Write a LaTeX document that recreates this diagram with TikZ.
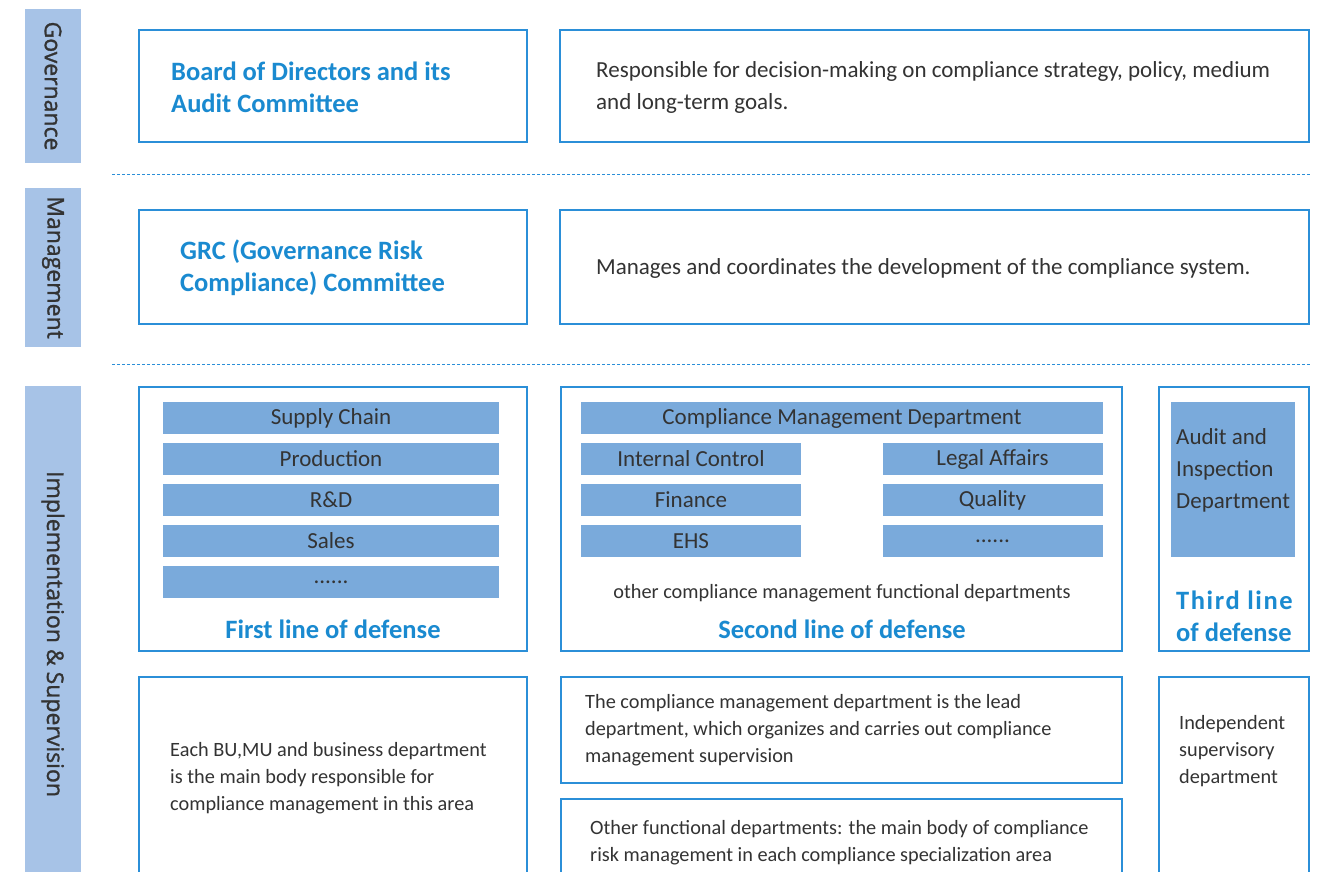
\documentclass[tikz,border=0pt]{standalone}
\usepackage{fontspec}
\setmainfont{Carlito}
\newfontfamily\sidefont[FakeBold=1.2]{Open Sans}
\definecolor{bordercol}{HTML}{2B8FD8}
\definecolor{barfill}{HTML}{7AAADB}
\definecolor{sidefill}{HTML}{A7C3E7}
\definecolor{headblue}{HTML}{1A8AD0}
\definecolor{textcol}{HTML}{333333}
\tikzset{
  frame/.style={draw=bordercol, line width=1.1pt, fill=white, inner sep=0pt},
  bar/.style={fill=barfill, inner sep=0pt, text=textcol, font=\fontsize{23}{26}\selectfont},
  side/.style={fill=sidefill, inner sep=0pt},
  sidetext/.style={rotate=-90, text=textcol, font=\sidefont\fontsize{23}{26}\selectfont, inner sep=0pt},
  head/.style={text=headblue, font=\bfseries\fontsize{26.5}{32}\selectfont, align=left, inner sep=0pt},
  body/.style={text=textcol, font=\fontsize{23}{32}\selectfont, align=left, inner sep=0pt},
  small/.style={text=textcol, font=\fontsize{20.3}{27}\selectfont, align=left, inner sep=0pt},
  sep/.style={draw=bordercol, line width=1pt, dash pattern=on 3pt off 2pt}
}
\begin{document}
\begin{tikzpicture}[x=1pt, y=-1pt]
\clip (0,0) rectangle (1325,871);
\fill[white] (0,0) rectangle (1325,871);

% side bars
\node[side, minimum width=56pt, minimum height=154pt] (gov) at (53,86) {};
\node[sidetext] (govt) at (gov.center) {Governance};
\node[side, minimum width=56pt, minimum height=159pt] (man) at (53,267.5) {};
\node[sidetext] (mant) at (man.center) {Management};
\node[side, minimum width=56pt, minimum height=500pt] (imp) at (53,636) {};
\node[sidetext] (impt) at (53,634) {Implementation \& Supervision};

% separators
\coordinate (s1a) at (112,174); \coordinate (s1b) at (1310,174);
\coordinate (s2a) at (112,364); \coordinate (s2b) at (1310,364);
\draw[sep] (s1a) -- (s1b);
\draw[sep] (s2a) -- (s2b);

% governance row
\node[frame, minimum width=388pt, minimum height=112pt] (board) at (333,86) {};
\node[head, anchor=west] (boardt) at (171,87) {Board of Directors and its\\Audit Committee};
\node[frame, minimum width=749pt, minimum height=112pt] (resp) at (934.5,86) {};
\node[body, anchor=west] (respt) at (596,87) {Responsible for decision-making on compliance strategy, policy, medium\\and long-term goals.};

% management row
\node[frame, minimum width=388pt, minimum height=114pt] (grc) at (333,267) {};
\node[head, anchor=west] (grct) at (180,268) {GRC (Governance Risk\\Compliance) Committee};
\node[frame, minimum width=749pt, minimum height=114pt] (mgs) at (934.5,267) {};
\node[body, anchor=west] (mgst) at (596,268) {Manages and coordinates the development of the compliance system.};

% first line
\node[frame, minimum width=388pt, minimum height=264pt] (first) at (333,519) {};
\node[bar, minimum width=336pt, minimum height=32pt] (sc) at (331,418) {Supply Chain};
\node[bar, minimum width=336pt, minimum height=32pt] (pr) at (331,459) {Production};
\node[bar, minimum width=336pt, minimum height=32pt] (rd) at (331,500) {R\&D};
\node[bar, minimum width=336pt, minimum height=32pt] (sa) at (331,541) {Sales};
\node[bar, minimum width=336pt, minimum height=32pt] (d1) at (331,582) {\raisebox{-4pt}{......}};
\node[head, anchor=center] (firstt) at (333,629) {First line of defense};

% second line
\node[frame, minimum width=561pt, minimum height=264pt] (second) at (841.5,519) {};
\node[bar, minimum width=522pt, minimum height=32pt] (cmd) at (842,418) {Compliance Management Department};
\node[bar, minimum width=220pt, minimum height=32pt] (ic) at (691,459) {Internal Control};
\node[bar, minimum width=220pt, minimum height=32pt] (la) at (992.5,459) {Legal Affairs};
\node[bar, minimum width=220pt, minimum height=32pt] (fi) at (691,500) {Finance};
\node[bar, minimum width=220pt, minimum height=32pt] (qu) at (992.5,500) {Quality};
\node[bar, minimum width=220pt, minimum height=32pt] (eh) at (691,541) {EHS};
\node[bar, minimum width=220pt, minimum height=32pt] (d2) at (992.5,541) {\raisebox{-4pt}{......}};
\node[small, anchor=center] (oth) at (842,593) {other compliance management functional departments};
\node[head, anchor=center] (secondt) at (842,629) {Second line of defense};

% third line
\node[frame, minimum width=150pt, minimum height=264pt] (third) at (1234,519) {};
\node[fill=barfill, inner sep=0pt, minimum width=124pt, minimum height=155pt] (aud) at (1233,479.5) {};
\node[body, anchor=west] (audt) at (1176,470) {Audit and\\Inspection\\Department};
\node[head, anchor=west] (thirdt) at (1176,616) {{\addfontfeature{LetterSpace=6}Third line}\\of defense};

% bottom row
\node[frame, minimum width=388pt, minimum height=220pt] (bu) at (333,787) {};
\node[small, anchor=west] (but) at (170,778) {Each BU,MU and business department\\is the main body responsible for\\compliance management in this area};
\node[frame, minimum width=561pt, minimum height=106pt] (lead) at (841.5,730) {};
\node[small, anchor=west] (leadt) at (585,730) {The compliance management department is the lead\\department, which organizes and carries out compliance\\management supervision};
\node[frame, minimum width=561pt, minimum height=120pt] (ofd) at (841.5,859) {};
\node[small, anchor=west] (ofdt) at (590,842.5) {Other functional departments: the main body of compliance\\risk management in each compliance specialization area};
\node[frame, minimum width=150pt, minimum height=220pt] (ind) at (1234,787) {};
\node[small, anchor=west] (indt) at (1179,751) {Independent\\supervisory\\department};
\end{tikzpicture}
\end{document}
